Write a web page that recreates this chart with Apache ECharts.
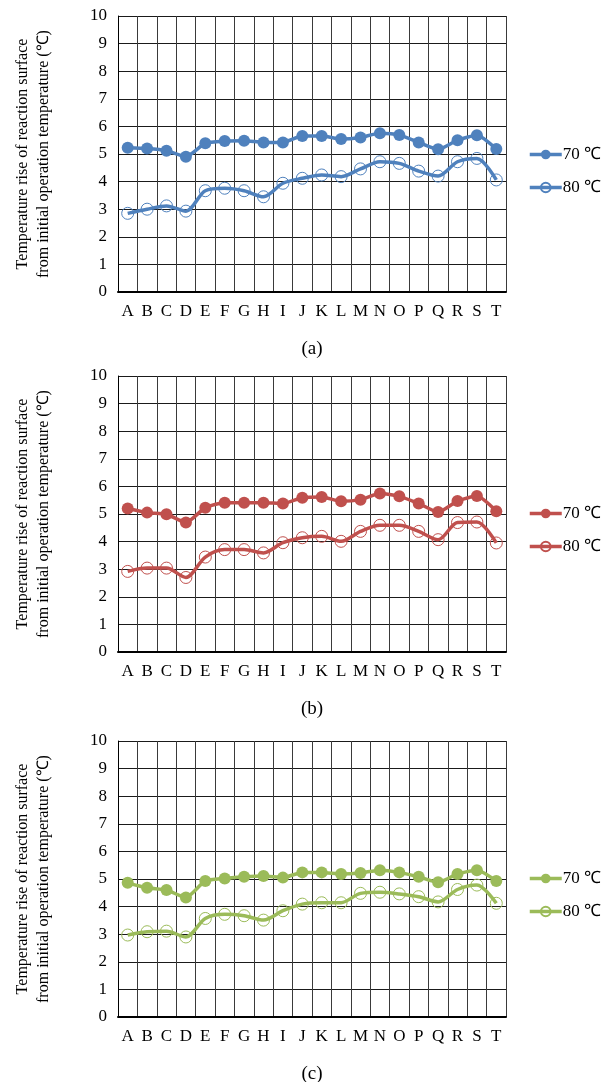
<!DOCTYPE html>
<html>
<head>
<meta charset="utf-8">
<script src="https://cdn.jsdelivr.net/npm/echarts@6/dist/echarts.min.js"></script>
<style>
  html, body { margin: 0; padding: 0; background: #fff; }
  #chart { width: 611px; height: 1082px; }
</style>
</head>
<body>
<div id="chart"></div>
<script>
// Sample positions A..T along the reaction surface
const categories = ['A','B','C','D','E','F','G','H','I','J','K','L','M','N','O','P','Q','R','S','T'];

// Panel (a)
const a70 = [5.23,5.20,5.12,4.90,5.39,5.47,5.48,5.42,5.42,5.65,5.65,5.54,5.60,5.75,5.69,5.42,5.17,5.50,5.68,5.18];
const a80 = [2.85,3.00,3.12,2.93,3.67,3.76,3.67,3.45,3.94,4.12,4.24,4.18,4.46,4.72,4.66,4.38,4.20,4.72,4.84,4.06];
// Panel (b)
const b70 = [5.20,5.05,4.99,4.69,5.23,5.41,5.41,5.41,5.38,5.59,5.62,5.46,5.52,5.74,5.64,5.38,5.07,5.47,5.65,5.10];
const b80 = [2.92,3.04,3.04,2.70,3.44,3.71,3.71,3.59,3.96,4.14,4.19,4.01,4.37,4.59,4.59,4.37,4.07,4.69,4.71,3.95];
// Panel (c)
const c70 = [4.86,4.68,4.60,4.33,4.93,5.02,5.08,5.11,5.05,5.24,5.24,5.18,5.22,5.32,5.24,5.08,4.88,5.18,5.32,4.93];
const c80 = [2.97,3.09,3.11,2.90,3.57,3.72,3.67,3.51,3.85,4.09,4.14,4.14,4.48,4.52,4.46,4.36,4.17,4.62,4.78,4.12];

const seriesNames = ['70 ℃', '80 ℃'];
const panelTitles = ['(a)', '(b)', '(c)'];
const yTitle = 'Temperature rise of reaction surface\nfrom initial operation temperature (℃)';

const panels = [
  { key: 'a', top: 16,  color: '#4F81BD', d70: a70, d80: a80, legendTop: 146 },
  { key: 'b', top: 376, color: '#C0504D', d70: b70, d80: b80, legendTop: 505 },
  { key: 'c', top: 741, color: '#9BBB59', d70: c70, d80: c80, legendTop: 870 }
];

const FONT = '"Liberation Serif", "Times New Roman", serif';
const PLOT_LEFT = 118, PLOT_W = 388, PLOT_H = 276;

const grid = [], xAxis = [], yAxis = [], series = [], legend = [], graphic = [];

panels.forEach((p, i) => {
  grid.push({ left: PLOT_LEFT, top: p.top, width: PLOT_W, height: PLOT_H });
  xAxis.push({
    type: 'category', gridIndex: i, data: categories, boundaryGap: true,
    axisLine: { show: true, lineStyle: { color: '#000', width: 2 } },
    axisTick: { show: false },
    axisLabel: { color: '#000', fontFamily: FONT, fontSize: 17, margin: 11, interval: 0 },
    splitLine: { show: true, interval: 0, lineStyle: { color: '#3a3a3a', width: 1 } }
  });
  yAxis.push({
    type: 'value', gridIndex: i, min: 0, max: 10, interval: 1,
    name: yTitle, nameLocation: 'middle', nameRotate: 90, nameGap: 64,
    nameTextStyle: { color: '#000', fontFamily: FONT, fontSize: 16, lineHeight: 21 },
    axisLine: { show: true, lineStyle: { color: '#000', width: 1 } },
    axisTick: { show: false },
    axisLabel: { color: '#000', fontFamily: FONT, fontSize: 17, margin: 11 },
    splitLine: { show: true, lineStyle: { color: '#1a1a1a', width: 1 } }
  });
  series.push({
    name: p.key + ':' + seriesNames[0], type: 'line', xAxisIndex: i, yAxisIndex: i,
    data: p.d70, smooth: 0.2, symbol: 'circle', symbolSize: 12,
    lineStyle: { color: p.color, width: 3.5 },
    itemStyle: { color: p.color }
  });
  series.push({
    name: p.key + ':' + seriesNames[1], type: 'line', xAxisIndex: i, yAxisIndex: i,
    data: p.d80, smooth: 0.3, symbol: 'circle', symbolSize: 12,
    lineStyle: { color: p.color, width: 3.5 },
    itemStyle: { color: 'rgba(255,255,255,0)', borderColor: p.color, borderWidth: 1 }
  });
  legend.push({
    orient: 'vertical', left: 528, top: p.legendTop, padding: 0,
    itemWidth: 32, itemHeight: 12, itemGap: 16,
    data: [p.key + ':' + seriesNames[0], p.key + ':' + seriesNames[1]],
    formatter: n => n.split(':')[1],
    lineStyle: { width: 3.5 },
    textStyle: { color: '#000', fontFamily: FONT, fontSize: 17, padding: [0, 0, 0, -4] },
    selectedMode: false
  });
  graphic.push({
    type: 'text', x: PLOT_LEFT + PLOT_W / 2, y: p.top + PLOT_H + 57,
    style: { text: panelTitles[i], fill: '#000', font: '19px ' + FONT, textAlign: 'center', textVerticalAlign: 'middle' }
  });
});

const chart = echarts.init(document.getElementById('chart'), null, { renderer: 'canvas' });
chart.setOption({
  backgroundColor: '#fff',
  animation: false,
  grid, xAxis, yAxis, series, legend, graphic
});
</script>
</body>
</html>
